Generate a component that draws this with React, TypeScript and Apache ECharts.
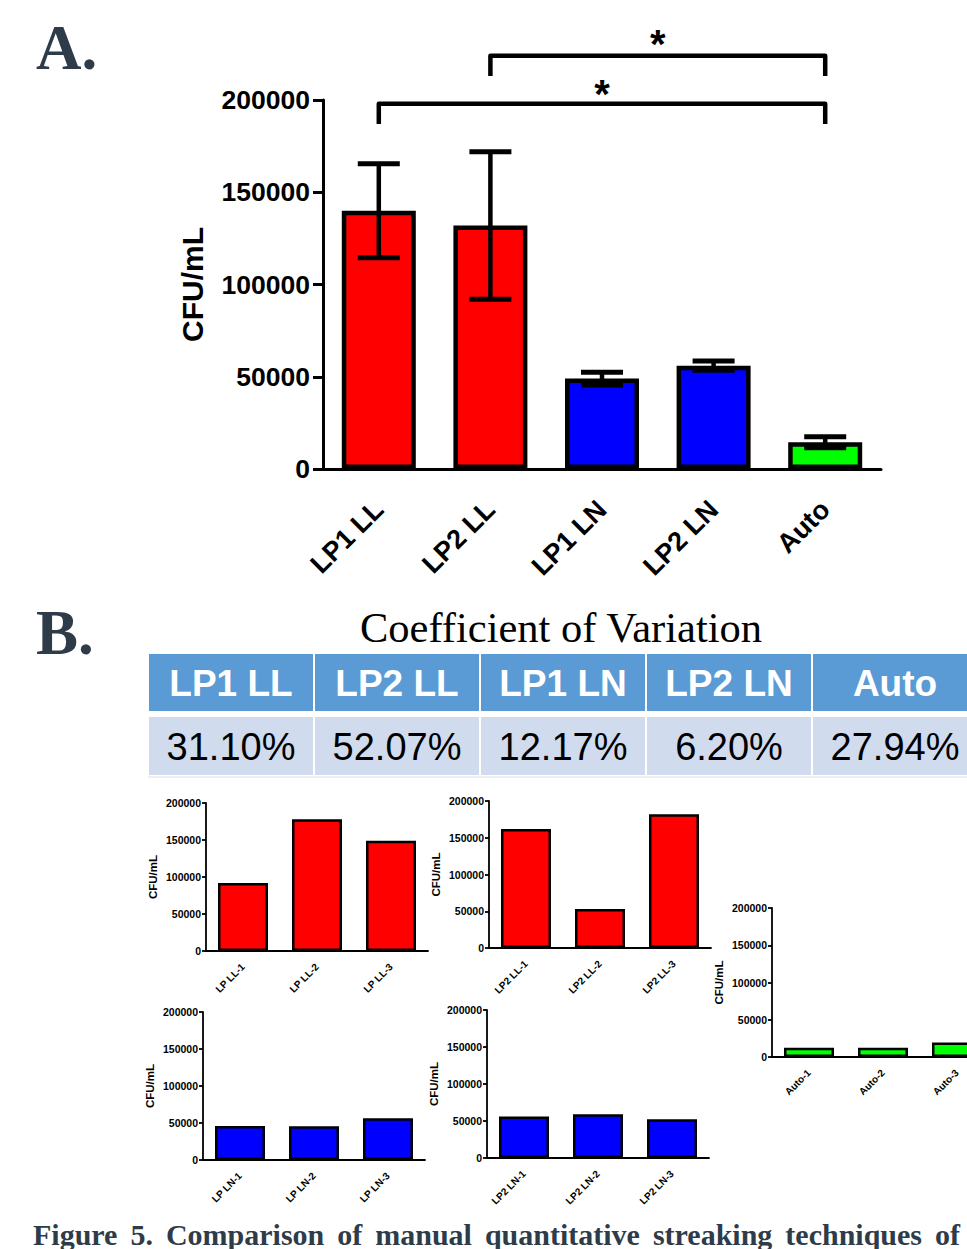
import React, { useEffect, useRef } from "react";
import * as echarts from "echarts";

// ---------- data ----------
const categories = ["LP1 LL", "LP2 LL", "LP1 LN", "LP2 LN", "Auto"];
const means = [140000, 132000, 49000, 56000, 14500];
const sems = [25500, 40000, 3500, 2500, 3000];
const barColors = ["#ff0000", "#ff0000", "#0000ff", "#0000ff", "#00ff00"];
const cvLabels = ["31.10%", "52.07%", "12.17%", "6.20%", "27.94%"];
const comparisons = [
  { from: "LP1 LL", to: "Auto", label: "*" },
  { from: "LP2 LL", to: "Auto", label: "*" },
];

const lp1llCats = ["LP LL-1", "LP LL-2", "LP LL-3"];
const lp1llValues = [92000, 178000, 149000];
const lp2llCats = ["LP2 LL-1", "LP2 LL-2", "LP2 LL-3"];
const lp2llValues = [162000, 53000, 182000];
const autoCats = ["Auto-1", "Auto-2", "Auto-3"];
const autoValues = [12500, 12500, 19500];
const lp1lnCats = ["LP LN-1", "LP LN-2", "LP LN-3"];
const lp1lnValues = [46000, 45500, 56500];
const lp2lnCats = ["LP2 LN-1", "LP2 LN-2", "LP2 LN-3"];
const lp2lnValues = [56000, 59000, 52500];

const yTicks = [0, 50000, 100000, 150000, 200000];

const captionText = "Figure 5. Comparison of manual quantitative streaking techniques of";

// ---------- layout ----------
const SANS = "'Liberation Sans', Arial, sans-serif";
const SERIF = "'Liberation Serif', 'Times New Roman', serif";
const LABEL_COLOR = "#2e3c4a";
const PAGE_W = 967;
const PAGE_H = 1249;
const CANVAS_W = 1000; // wider than the page: the Auto panel runs past the right edge

export default function App() {
  const ref = useRef<HTMLDivElement>(null);

  useEffect(() => {
    if (!ref.current) return;
    const chart = echarts.init(ref.current, null, { renderer: "svg", width: CANVAS_W, height: PAGE_H });

    const yMax = yTicks[yTicks.length - 1];
    const yInterval = yTicks[1] - yTicks[0];
    const plain = (v: number) => String(v);

    const grids: any[] = [
      { left: 323, top: 100, width: 558, height: 369 },
      { left: 206, top: 803, width: 222, height: 148 },
      { left: 489, top: 801, width: 222, height: 147 },
      { left: 772, top: 908, width: 222, height: 149 },
      { left: 203, top: 1012, width: 222, height: 148 },
      { left: 487, top: 1010, width: 222, height: 148 },
    ];

    const xAxes: any[] = [];
    const yAxes: any[] = [];
    const series: any[] = [];

    // main chart axes
    xAxes.push({
      gridIndex: 0,
      type: "category",
      data: categories,
      axisLine: { lineStyle: { color: "#000", width: 3 } },
      axisTick: { alignWithLabel: true, length: 18, lineStyle: { color: "#000", width: 3 } },
      axisLabel: {
        rotate: 45,
        margin: 36,
        color: "#000",
        fontFamily: SANS,
        fontWeight: "bold",
        fontSize: 27,
      },
    });
    yAxes.push({
      gridIndex: 0,
      type: "value",
      min: 0,
      max: yMax,
      interval: yInterval,
      splitLine: { show: false },
      axisLine: { show: true, lineStyle: { color: "#000", width: 3 } },
      axisTick: { show: true, length: 10, lineStyle: { color: "#000", width: 3 } },
      axisLabel: { margin: 13, color: "#000", fontFamily: SANS, fontWeight: "bold", fontSize: 26.5, formatter: plain },
      name: "CFU/mL",
      nameLocation: "middle",
      nameGap: 116,
      nameTextStyle: { color: "#000", fontFamily: SANS, fontWeight: "bold", fontSize: 30 },
    });

    series.push({
      type: "bar",
      xAxisIndex: 0,
      yAxisIndex: 0,
      barWidth: 74,
      data: means.map((v, i) => ({
        value: v,
        itemStyle: { color: barColors[i], borderColor: "#000", borderWidth: 4.5 },
      })),
      z: 2,
    });

    series.push({
      type: "custom",
      xAxisIndex: 0,
      yAxisIndex: 0,
      clip: false,
      z: 5,
      data: means.map((m, i) => [i, m - sems[i], m + sems[i]]),
      encode: { x: 0, y: [1, 2] },
      renderItem: (params: any, api: any) => {
        const x = api.value(0);
        const lo = api.coord([x, api.value(1)]);
        const hi = api.coord([x, api.value(2)]);
        const half = 21;
        const st = { stroke: "#000", lineWidth: 4.5 };
        return {
          type: "group",
          children: [
            { type: "line", shape: { x1: lo[0], y1: lo[1], x2: hi[0], y2: hi[1] }, style: st },
            { type: "line", shape: { x1: hi[0] - half, y1: hi[1], x2: hi[0] + half, y2: hi[1] }, style: { ...st, lineWidth: 5 } },
            { type: "line", shape: { x1: lo[0] - half, y1: lo[1], x2: lo[0] + half, y2: lo[1] }, style: { ...st, lineWidth: 5 } },
          ],
        };
      },
    });

    // significance brackets
    const bracketLevels = [198000, 224000];
    const bracketDrop = 11000;
    const starLift = [5500, 6500];
    series.push({
      type: "custom",
      xAxisIndex: 0,
      yAxisIndex: 0,
      clip: false,
      silent: true,
      z: 6,
      data: comparisons.map((c, k) => [categories.indexOf(c.from), categories.indexOf(c.to), bracketLevels[k]]),
      encode: { x: [0, 1], y: 2 },
      renderItem: (params: any, api: any) => {
        const a = api.value(0);
        const b = api.value(1);
        const lvl = api.value(2);
        const pA = api.coord([a, lvl]);
        const pB = api.coord([b, lvl]);
        const pAd = api.coord([a, lvl - bracketDrop]);
        const pBd = api.coord([b, lvl - bracketDrop]);
        const pS = api.coord([a, lvl + starLift[params.dataIndex]]);
        const lbl = comparisons[params.dataIndex].label;
        return {
          type: "group",
          children: [
            {
              type: "polyline",
              shape: { points: [pAd, pA, pB, pBd] },
              style: { stroke: "#000", lineWidth: 4.5, fill: null, lineJoin: "round" },
            },
            {
              type: "text",
              x: (pA[0] + pB[0]) / 2,
              y: pS[1],
              style: {
                text: lbl,
                fill: "#000",
                font: `bold 40px ${SANS}`,
                textAlign: "center",
                textVerticalAlign: "middle",
              },
            },
          ],
        };
      },
    });

    // small charts
    const smalls = [
      { cats: lp1llCats, vals: lp1llValues, color: "#ff0000" },
      { cats: lp2llCats, vals: lp2llValues, color: "#ff0000" },
      { cats: autoCats, vals: autoValues, color: "#00ff00" },
      { cats: lp1lnCats, vals: lp1lnValues, color: "#0000ff" },
      { cats: lp2lnCats, vals: lp2lnValues, color: "#0000ff" },
    ];
    smalls.forEach((s, k) => {
      const gi = k + 1;
      xAxes.push({
        gridIndex: gi,
        type: "category",
        data: s.cats,
        axisLine: { lineStyle: { color: "#000", width: 1.8 } },
        axisTick: { alignWithLabel: true, length: 7, lineStyle: { color: "#000", width: 1.8 } },
        axisLabel: {
          rotate: 45,
          margin: 14,
          color: "#000",
          fontFamily: SANS,
          fontWeight: "bold",
          fontSize: 10,
        },
      });
      yAxes.push({
        gridIndex: gi,
        type: "value",
        min: 0,
        max: yMax,
        interval: yInterval,
        splitLine: { show: false },
        axisLine: { show: true, lineStyle: { color: "#000", width: 1.8 } },
        axisTick: { show: true, length: 4, lineStyle: { color: "#000", width: 1.8 } },
        axisLabel: { margin: 5, color: "#000", fontFamily: SANS, fontWeight: "bold", fontSize: 10.5, formatter: plain },
        name: "CFU/mL",
        nameLocation: "middle",
        nameGap: 47,
        nameTextStyle: { color: "#000", fontFamily: SANS, fontWeight: "bold", fontSize: 11.5 },
      });
      series.push({
        type: "bar",
        xAxisIndex: gi,
        yAxisIndex: gi,
        barWidth: 50,
        data: s.vals,
        itemStyle: { color: s.color, borderColor: "#000", borderWidth: 2.5 },
      });
    });

    // table + texts
    const tableLeft = 148;
    const colW = 166;
    const headTop = 654;
    const headH = 57;
    const rowTop = 717;
    const rowH = 58;
    const graphics: any[] = [];
    graphics.push({
      type: "text",
      left: 36,
      top: 16,
      style: { text: "A.", fill: LABEL_COLOR, font: `bold 63px ${SERIF}` },
    });
    graphics.push({
      type: "text",
      left: 36,
      top: 601,
      style: { text: "B.", fill: LABEL_COLOR, font: `bold 63px ${SERIF}` },
    });
    graphics.push({
      type: "text",
      x: 561,
      y: 627,
      style: {
        text: "Coefficient of Variation",
        fill: "#000",
        font: `42.5px ${SERIF}`,
        textAlign: "center",
        textVerticalAlign: "middle",
      },
    });
    categories.forEach((c, i) => {
      const x = tableLeft + i * colW;
      graphics.push({
        type: "rect",
        shape: { x: x + 1, y: headTop, width: colW - 2, height: headH },
        style: { fill: "#5b9bd5" },
      });
      graphics.push({
        type: "rect",
        shape: { x: x + 1, y: rowTop, width: colW - 2, height: rowH },
        style: { fill: "#d0dcee" },
      });
      graphics.push({
        type: "text",
        x: x + colW / 2,
        y: headTop + headH / 2 + 1,
        style: {
          text: c,
          fill: "#fff",
          font: `bold 37px ${SANS}`,
          textAlign: "center",
          textVerticalAlign: "middle",
        },
      });
      graphics.push({
        type: "text",
        x: x + colW / 2,
        y: rowTop + rowH / 2 + 1,
        style: {
          text: cvLabels[i],
          fill: "#000",
          font: `38px ${SANS}`,
          textAlign: "center",
          textVerticalAlign: "middle",
        },
      });
    });
    graphics.push({
      type: "line",
      shape: { x1: tableLeft, y1: rowTop + rowH + 2, x2: PAGE_W, y2: rowTop + rowH + 2 },
      style: { stroke: "#dddddd", lineWidth: 1 },
    });

    // caption, justified word by word
    const capSize = 30;
    const capFont = `bold ${capSize}px ${SERIF}`;
    const words = captionText.split(" ");
    const cv = document.createElement("canvas");
    const ctx = cv.getContext("2d");
    let widths = words.map((w) => w.length * 15);
    if (ctx) {
      ctx.font = capFont;
      widths = words.map((w) => ctx.measureText(w).width);
    }
    const capLeft = 33;
    const capRight = 960;
    const total = widths.reduce((a, b) => a + b, 0);
    const gap = (capRight - capLeft - total) / (words.length - 1);
    let cx = capLeft;
    words.forEach((w, i) => {
      graphics.push({
        type: "text",
        x: cx,
        y: 1219,
        style: {
          text: w,
          fill: LABEL_COLOR,
          font: capFont,
          lineHeight: capSize,
          textAlign: "left",
          textVerticalAlign: "top",
        },
      });
      cx += widths[i] + gap;
    });

    chart.setOption({
      animation: false,
      backgroundColor: "#fff",
      grid: grids,
      xAxis: xAxes,
      yAxis: yAxes,
      series,
      graphic: graphics,
    });

    return () => chart.dispose();
  }, []);

  return (
    <div
      style={{
        position: "absolute",
        left: 0,
        top: 0,
        width: PAGE_W,
        height: PAGE_H,
        overflow: "hidden",
        background: "#fff",
      }}
    >
      <div ref={ref} style={{ width: CANVAS_W, height: PAGE_H }} />
    </div>
  );
}
